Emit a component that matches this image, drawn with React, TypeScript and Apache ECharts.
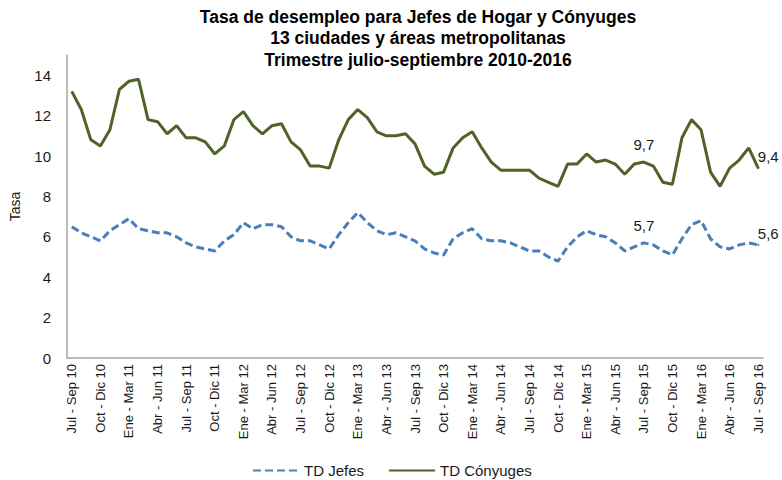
import React, { useEffect, useRef } from "react";
import * as echarts from "echarts";

const monthAbbr = ["Ene", "Feb", "Mar", "Abr", "May", "Jun", "Jul", "Ago", "Sep", "Oct", "Nov", "Dic"];

// Rolling quarters from Jul-Sep 2010 to Jul-Sep 2016 (73 periods)
const categories: string[] = [];
for (let k = 0; k < 73; k++) {
  const startIdx = 6 + k; // months since Jan 2010 (Jul 2010 = 6)
  const endIdx = startIdx + 2;
  const a = monthAbbr[startIdx % 12];
  const b = monthAbbr[endIdx % 12];
  const yr = String(10 + Math.floor(endIdx / 12));
  categories.push(`${a} - ${b} ${yr}`);
}

const tdJefes: number[] = [
  6.5, 6.2, 6.0, 5.8, 6.3, 6.6, 6.9, 6.4, 6.3, 6.2, 6.2, 6.0,
  5.7, 5.5, 5.4, 5.3, 5.8, 6.1, 6.7, 6.4, 6.6, 6.6, 6.5, 6.0,
  5.8, 5.8, 5.6, 5.4, 6.1, 6.7, 7.2, 6.7, 6.3, 6.1, 6.2, 6.0,
  5.8, 5.4, 5.2, 5.1, 5.9, 6.2, 6.4, 5.9, 5.8, 5.8, 5.7, 5.5,
  5.3, 5.3, 5.0, 4.8, 5.5, 6.0, 6.3, 6.1, 6.0, 5.7, 5.3, 5.5,
  5.7, 5.6, 5.3, 5.1, 5.9, 6.6, 6.8, 5.9, 5.5, 5.4, 5.6, 5.7,
  5.6,
];

const tdConyuges: number[] = [
  13.2, 12.3, 10.8, 10.5, 11.3, 13.3, 13.7, 13.8, 11.8, 11.7, 11.1, 11.5,
  10.9, 10.9, 10.7, 10.1, 10.5, 11.8, 12.2, 11.5, 11.1, 11.5, 11.6, 10.7,
  10.3, 9.5, 9.5, 9.4, 10.8, 11.8, 12.3, 11.9, 11.2, 11.0, 11.0, 11.1,
  10.6, 9.5, 9.1, 9.2, 10.4, 10.9, 11.2, 10.4, 9.7, 9.3, 9.3, 9.3,
  9.3, 8.9, 8.7, 8.5, 9.6, 9.6, 10.1, 9.7, 9.8, 9.6, 9.1, 9.6,
  9.7, 9.5, 8.7, 8.6, 10.9, 11.8, 11.3, 9.2, 8.5, 9.4, 9.8, 10.4,
  9.4,
];

const labeledIdx = [60, 72];
const yTicks = [0, 2, 4, 6, 8, 10, 12, 14];

const titleLines = [
  "Tasa de desempleo para Jefes de Hogar y Cónyuges",
  "13 ciudades y áreas metropolitanas",
  "Trimestre julio-septiembre 2010-2016",
];

const FONT = "'Liberation Sans', Arial, sans-serif";

function withLabels(values: number[], color: string) {
  return values.map((v, i) => {
    if (!labeledIdx.includes(i)) return v;
    const last = i === values.length - 1;
    return {
      value: v,
      symbol: "circle",
      symbolSize: 2,
      itemStyle: { color },
      label: {
        show: true,
        position: "top",
        distance: last ? 3 : 9,
        offset: last ? [10, 0] : [0, 0],
        formatter: v.toFixed(1).replace(".", ","),
        color: "#1a1a1a",
        fontSize: 15,
        fontFamily: FONT,
      },
    };
  });
}

export default function App() {
  const ref = useRef<HTMLDivElement>(null);
  useEffect(() => {
    if (!ref.current) return;
    const chart = echarts.init(ref.current, undefined, { renderer: "svg" });
    chart.setOption({
      animation: false,
      backgroundColor: "#ffffff",
      textStyle: { fontFamily: FONT },
      title: {
        text: titleLines.join("\n"),
        left: 418,
        top: 6,
        textAlign: "center",
        padding: 0,
        textStyle: {
          fontSize: 17.5,
          fontWeight: "bold",
          lineHeight: 21.5,
          color: "#000000",
          fontFamily: FONT,
        },
      },
      grid: { left: 67, right: 19, top: 55, bottom: 122 },
      legend: {
        left: 252,
        top: 463,
        padding: 0,
        itemWidth: 46,
        itemHeight: 10,
        itemGap: 24,
        itemStyle: { opacity: 0 },
        textStyle: { fontSize: 15, color: "#1a1a1a", fontFamily: FONT },
        data: ["TD Jefes", "TD Cónyuges"],
      },
      xAxis: {
        type: "category",
        data: categories,
        boundaryGap: true,
        axisLine: { lineStyle: { color: "#a6a6a6", width: 1.5 } },
        axisTick: { show: false },
        axisLabel: {
          interval: 2,
          rotate: 90,
          fontSize: 13,
          color: "#1a1a1a",
          margin: 6,
          fontFamily: FONT,
        },
        splitLine: { show: false },
      },
      yAxis: {
        type: "value",
        min: 0,
        max: 15,
        interval: 2,
        name: "Tasa",
        nameLocation: "middle",
        nameRotate: 90,
        nameGap: 45,
        nameTextStyle: { fontSize: 14, color: "#1a1a1a", fontFamily: FONT },
        axisLine: { show: true, lineStyle: { color: "#a6a6a6", width: 1.5 } },
        axisTick: { show: false },
        axisLabel: {
          fontSize: 15,
          color: "#1a1a1a",
          margin: 16,
          fontFamily: FONT,
          formatter: (v: number) => (yTicks.includes(v) ? String(v) : ""),
        },
        splitLine: { show: false },
      },
      series: [
        {
          name: "TD Jefes",
          type: "line",
          data: withLabels(tdJefes, "#4a7ebb"),
          symbol: "none",
          color: "#4a7ebb",
          lineStyle: { color: "#4a7ebb", width: 3, type: [8, 4], cap: "butt" },
        },
        {
          name: "TD Cónyuges",
          type: "line",
          data: withLabels(tdConyuges, "#4f6228"),
          symbol: "none",
          color: "#4f6228",
          lineStyle: { color: "#4f6228", width: 3 },
        },
      ],
    });
    return () => chart.dispose();
  }, []);
  return (
    <div
      ref={ref}
      style={{ position: "fixed", left: 0, top: 0, width: 782, height: 480 }}
    />
  );
}
